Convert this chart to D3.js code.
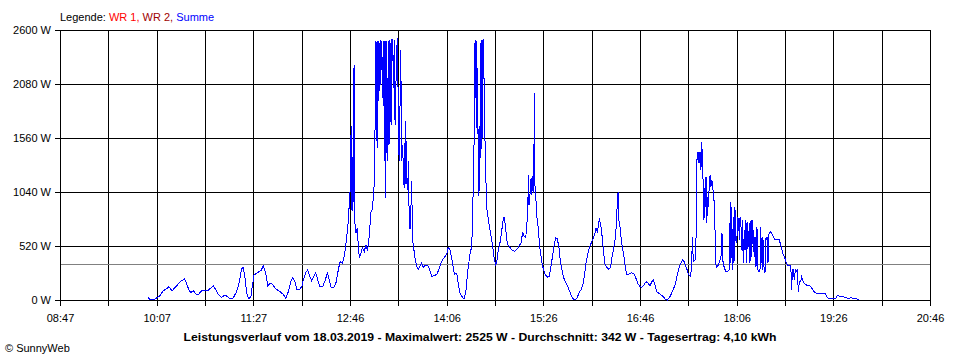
<!DOCTYPE html>
<html><head><meta charset="utf-8">
<script src="https://cdn.jsdelivr.net/npm/d3@7/dist/d3.min.js"></script>
<style>
html,body{margin:0;padding:0;background:#fff;}
svg{display:block;}
text{font-family:"Liberation Sans",Arial,sans-serif;}
</style></head><body>
<svg id="chart" width="960" height="360"></svg>
<script>
// ---- data ----
const xTickLabels = ["08:47","10:07","11:27","12:46","14:06","15:26","16:46","18:06","19:26","20:46"];
const yTickValues = [0,520,1040,1560,2080,2600];
const yTickLabels = ["0 W","520 W","1040 W","1560 W","2080 W","2600 W"];
const timeStartMin = 527;   // 08:47
const timeEndMin = 1246;    // 20:46
const averageW = 342;
const legendItems = ["WR 1,", "WR 2,", "Summe"];
const titleText = "Leistungsverlauf vom 18.03.2019 - Maximalwert: 2525 W - Durchschnitt: 342 W - Tagesertrag: 4,10 kWh";
// Summe: [minutes since midnight, W]
const summeSeries = [
[600.0,32],[600.8,7],[605.5,7],[606.3,16],[607.4,26],[609.6,41],[612.4,90],[614.6,103],[616.8,128],[617.9,113],[619.8,90],[621.5,113],[623.4,135],[625.6,167],[627.6,186],[629.7,202],[631.1,176],[633.0,113],[635.0,70],[637.2,90],[639.4,55],[641.3,51],[644.1,90],[646.8,96],[649.6,96],[651.8,116],[653.7,138],[655.9,96],[658.2,48],[660.6,26],[663.4,48],[665.3,32],[668.1,10],[670.2,22],[673.0,80],[675.2,176],[677.2,305],[678.5,311],[679.9,209],[681.3,70],[682.9,13],[684.8,32],[685.7,113],[687.3,241],[689.6,257],[691.5,273],[693.1,282],[695.0,327],[697.0,263],[698.7,135],[700.6,161],[702.8,151],[704.7,113],[706.9,96],[708.8,80],[711.5,55],[713.5,16],[715.7,80],[717.7,176],[719.3,215],[721.2,176],[722.6,103],[725.3,103],[727.0,135],[728.1,193],[730.1,263],[731.7,289],[733.6,224],[735.0,186],[736.3,219],[738.3,263],[740.0,193],[741.9,128],[744.1,128],[746.3,193],[747.9,263],[749.6,193],[751.0,122],[753.4,122],[755.1,167],[757.0,289],[758.4,369],
[760.3,356],[762.0,421],[763.4,549],[764.8,693],[765.8,870],[766.7,1047],[767.2,1592],[767.7,870],[768.1,1673],[768.6,1047],[769.1,854],[770.0,2266],[770.6,758],[771.6,645],[772.7,693],[773.5,517],[774.4,404],[775.8,453],[776.8,501],[778.5,469],[779.9,533],[781.0,484],[781.8,517],[782.9,662],[783.8,838],[785.1,870],[786.5,1079],[787.3,1560],[787.9,2491],[788.4,1528],[789.0,2491],[789.6,1464],[790.1,2491],[790.9,2010],[791.5,2507],[792.0,2073],[792.9,2491],[793.7,1945],[794.5,2491],[795.0,1336],[795.6,2491],[796.2,982],[797.0,2491],[797.8,1336],[798.3,2491],[798.9,1496],[799.7,2507],[800.6,1688],[801.1,2507],[802.0,2507],[802.5,2041],[803.3,2507],[803.9,1688],[805.3,2427],[806.1,2525],[806.6,1560],[807.4,1336],[808.6,2410],[809.4,1336],[810.2,1496],[811.0,1110],[811.5,1512],[812.1,1079],[812.7,1721],[813.5,1143],[814.4,1062],[814.9,1336],[815.7,693],[816.5,693],[817.7,1143],[818.2,597],[819.3,501],[820.4,404],[821.8,325],[823.1,292],[824.5,325],[825.9,356],[827.2,315],[828.6,334],[830.9,334],[832.2,301],[834.2,228],[836.9,238],[838.6,250],[840.5,308],[842.5,373],[844.6,411],[846.6,443],[847.9,507],[849.3,484],[851.2,373],[852.9,250],[854.8,260],[856.2,154],[857.6,67],[859.0,36],[860.3,19],
[860.9,13],[862.3,67],[863.9,276],[865.8,436],[867.2,517],[868.1,773],[868.6,1255],[869.4,1592],[870.0,2507],[870.6,1945],[871.1,2491],[871.6,1656],[872.2,2234],[872.7,999],[873.3,1656],[873.9,1047],[874.4,2475],[874.9,1367],[875.5,2507],[876.0,1560],[876.6,2507],[877.2,2507],[877.7,1656],[878.2,1560],[878.8,1207],[879.9,870],[881.0,773],[882.1,693],[883.8,581],[885.1,469],[885.9,388],[887.1,340],[888.2,388],[889.2,484],[890.6,549],[892.0,662],[893.4,790],[894.2,790],[895.3,693],[896.7,533],[898.3,517],[900.3,484],[902.4,469],[904.4,484],[906.3,517],[908.0,549],[909.4,655],[910.5,613],[911.9,597],[913.2,790],[913.8,999],[914.0,1207],[914.6,918],[915.4,1014],[916.3,1175],[916.8,1014],[917.3,1191],[917.9,1047],[918.5,1030],[919.0,1993],[919.6,1047],[920.4,950],[921.2,790],[922.3,693],[923.4,517],[924.5,421],[925.6,340],[927.0,276],[928.4,238],[930.1,219],[931.4,228],[932.8,325],[934.2,436],[935.5,533],[936.7,597],[938.0,590],[939.4,501],[940.5,373],[941.6,308],[942.9,228],[944.4,180],[946.0,147],[947.7,99],[949.3,51],[950.7,13],[952.6,3],[954.3,19],[955.9,67],[957.6,99],[959.2,147],[960.3,228],[961.5,340],[962.5,404],[963.6,469],[964.8,517],
[967.2,578],[969.1,642],[970.0,690],[971.1,658],[971.9,706],[972.7,787],[973.9,722],[974.9,626],[976.0,498],[977.2,353],[978.8,315],[980.7,296],[982.1,321],[983.2,417],[984.3,481],[985.7,578],[987.1,754],[987.6,1011],[988.4,1043],[989.0,754],[989.8,706],[990.9,578],[991.7,513],[992.9,433],[993.9,337],[995.3,247],[997.5,250],[999.5,263],[1001.4,250],[1003.0,209],[1004.4,161],[1006.3,128],[1008.0,122],[1009.6,144],[1011.3,176],[1012.7,167],[1014.6,135],[1016.0,176],[1017.3,193],[1018.7,144],[1020.1,80],[1021.8,65],[1023.7,48],[1025.6,32],[1027.2,7],[1028.9,0],[1031.1,32],[1033.0,80],[1035.3,144],[1037.2,241],[1038.8,321],[1040.2,359],[1041.6,385],[1043.0,369],[1044.1,321],[1044.9,305],[1046.6,241],[1048.2,231],[1049.1,356],[1049.6,610],[1050.4,369],[1051.8,385],[1052.9,674],[1053.4,1348],[1054.3,1428],[1055.1,1316],[1055.9,1428],[1056.7,1252],[1057.3,1524],[1058.1,1316],[1058.6,1076],[1059.2,770],[1059.8,1076],[1060.3,898],[1060.9,1187],[1061.5,739],[1062.3,995],[1063.1,898],[1063.6,1172],[1064.4,1204],[1065.0,1091],[1065.6,1156],[1066.4,1107],[1067.2,963],[1068.1,947],[1068.6,353],[1069.7,315],[1071.0,337],[1072.5,385],[1073.5,433],[1074.1,642],[1074.7,385],[1075.8,321],[1077.2,273],[1078.8,273],[1080.1,289],[1081.0,947],[1081.5,353],[1082.1,898],[1082.9,289],[1083.4,802],[1084.0,353],[1084.8,898],[1085.4,578],[1086.3,546],[1087.1,796],[1087.9,770],[1088.4,578],[1089.0,796],[1089.8,706],[1090.4,481],[1090.9,770],[1091.7,353],[1092.5,674],[1093.1,481],[1093.9,770],[1094.5,353],[1095.3,754],[1095.8,513],[1096.7,739],[1097.2,353],[1098.1,770],[1098.6,417],[1099.5,770],[1100.0,578],[1100.8,417],[1101.4,610],[1102.2,321],[1103.0,706],[1103.8,289],[1104.7,273],[1105.5,289],[1106.1,706],[1106.6,353],[1107.2,610],[1107.7,289],[1108.2,578],[1108.8,321],[1109.6,257],[1110.5,610],[1111.0,578],[1111.5,610],[1112.1,353],[1112.7,626],[1113.8,658],[1115.2,642],[1116.5,610],[1117.9,584],[1119.8,578],[1121.5,578],[1122.6,530],[1123.7,481],[1124.8,433],[1125.9,411],[1127.0,369],[1128.1,337],[1130.9,337],[1131.7,96],[1132.2,289],[1133.0,289],[1133.9,193],[1134.7,289],[1135.5,273],[1136.3,289],[1137.2,80],[1138.0,176],[1139.1,176],[1140.0,224],[1140.8,193],[1141.9,161],[1144.1,144],[1145.8,144],[1147.4,128],[1149.1,103],[1150.7,70],[1152.9,65],[1157.8,58],[1159.5,58],[1160.6,32],[1162.3,16],[1168.3,16],[1169.4,41],[1174.4,32],[1178.5,16],[1181.3,22],[1182.6,13],[1185.4,10],[1187.3,7]
];

// ---- chart ----
const svg = d3.select("#chart");
const L = 60, R = 930, T = 30, B = 300;
const x = d3.scaleLinear().domain([timeStartMin, timeEndMin]).range([L, R]);
const y = d3.scaleLinear().domain([0, 2600]).range([B, T]);
const px = v => Math.round(v) + 0.5;

// vertical grid positions: 18 intervals
const gridTimes = d3.range(19).map(i => timeStartMin + i * (timeEndMin - timeStartMin) / 18);
const labelTimes = gridTimes.filter((d, i) => i % 2 === 0);

const g = svg.append("g").attr("shape-rendering", "crispEdges");
// horizontal grid
g.selectAll("line.hg").data(yTickValues).join("line")
  .attr("x1", L - 5).attr("x2", R + 0.5)
  .attr("y1", d => px(y(d))).attr("y2", d => px(y(d)))
  .attr("stroke", "#000").attr("stroke-width", 1);
// vertical grid
g.selectAll("line.vg").data(gridTimes).join("line")
  .attr("x1", d => px(x(d))).attr("x2", d => px(x(d)))
  .attr("y1", px(y(2600))).attr("y2", px(y(0)) + 5)
  .attr("stroke", "#000").attr("stroke-width", 1);
// average line
g.append("line")
  .attr("x1", L + 1).attr("x2", R)
  .attr("y1", px(y(averageW))).attr("y2", px(y(averageW)))
  .attr("stroke", "#808080").attr("stroke-width", 1);

// series
const line = d3.line().x(d => x(d[0])).y(d => y(d[1]));
svg.append("path").datum(summeSeries)
  .attr("d", line).attr("fill", "none")
  .attr("stroke", "#0000ff").attr("stroke-width", 1)
  .attr("shape-rendering", "crispEdges");

// y labels
svg.selectAll("text.yl").data(yTickValues).join("text")
  .attr("x", 51).attr("y", d => y(d) + 4)
  .attr("text-anchor", "end").attr("font-size", 11).attr("fill", "#000")
  .text((d, i) => yTickLabels[i]);
// x labels
svg.selectAll("text.xl").data(labelTimes).join("text")
  .attr("x", d => x(d) + 0.5).attr("y", 322)
  .attr("text-anchor", "middle").attr("font-size", 11).attr("fill", "#000")
  .text((d, i) => xTickLabels[i]);

// legend
const legendColors = ["#ff0000", "#a00000", "#0000ff"];
const lg = svg.append("text").attr("x", 60).attr("y", 21).attr("font-size", 11);
lg.append("tspan").attr("fill", "#000").text("Legende: ");
legendItems.forEach((t, i) => {
  lg.append("tspan").attr("fill", legendColors[i]).text(t + (i < legendItems.length - 1 ? " " : ""));
});

// title
svg.append("text").attr("x", 480).attr("y", 340.5)
  .attr("text-anchor", "middle").attr("font-size", 11.5).attr("font-weight", "bold")
  .attr("textLength", 593).attr("lengthAdjust", "spacingAndGlyphs")
  .text(titleText);
// copyright
svg.append("text").attr("x", 5).attr("y", 352).attr("font-size", 11).text("\u00A9 SunnyWeb");
</script>
</body></html>
